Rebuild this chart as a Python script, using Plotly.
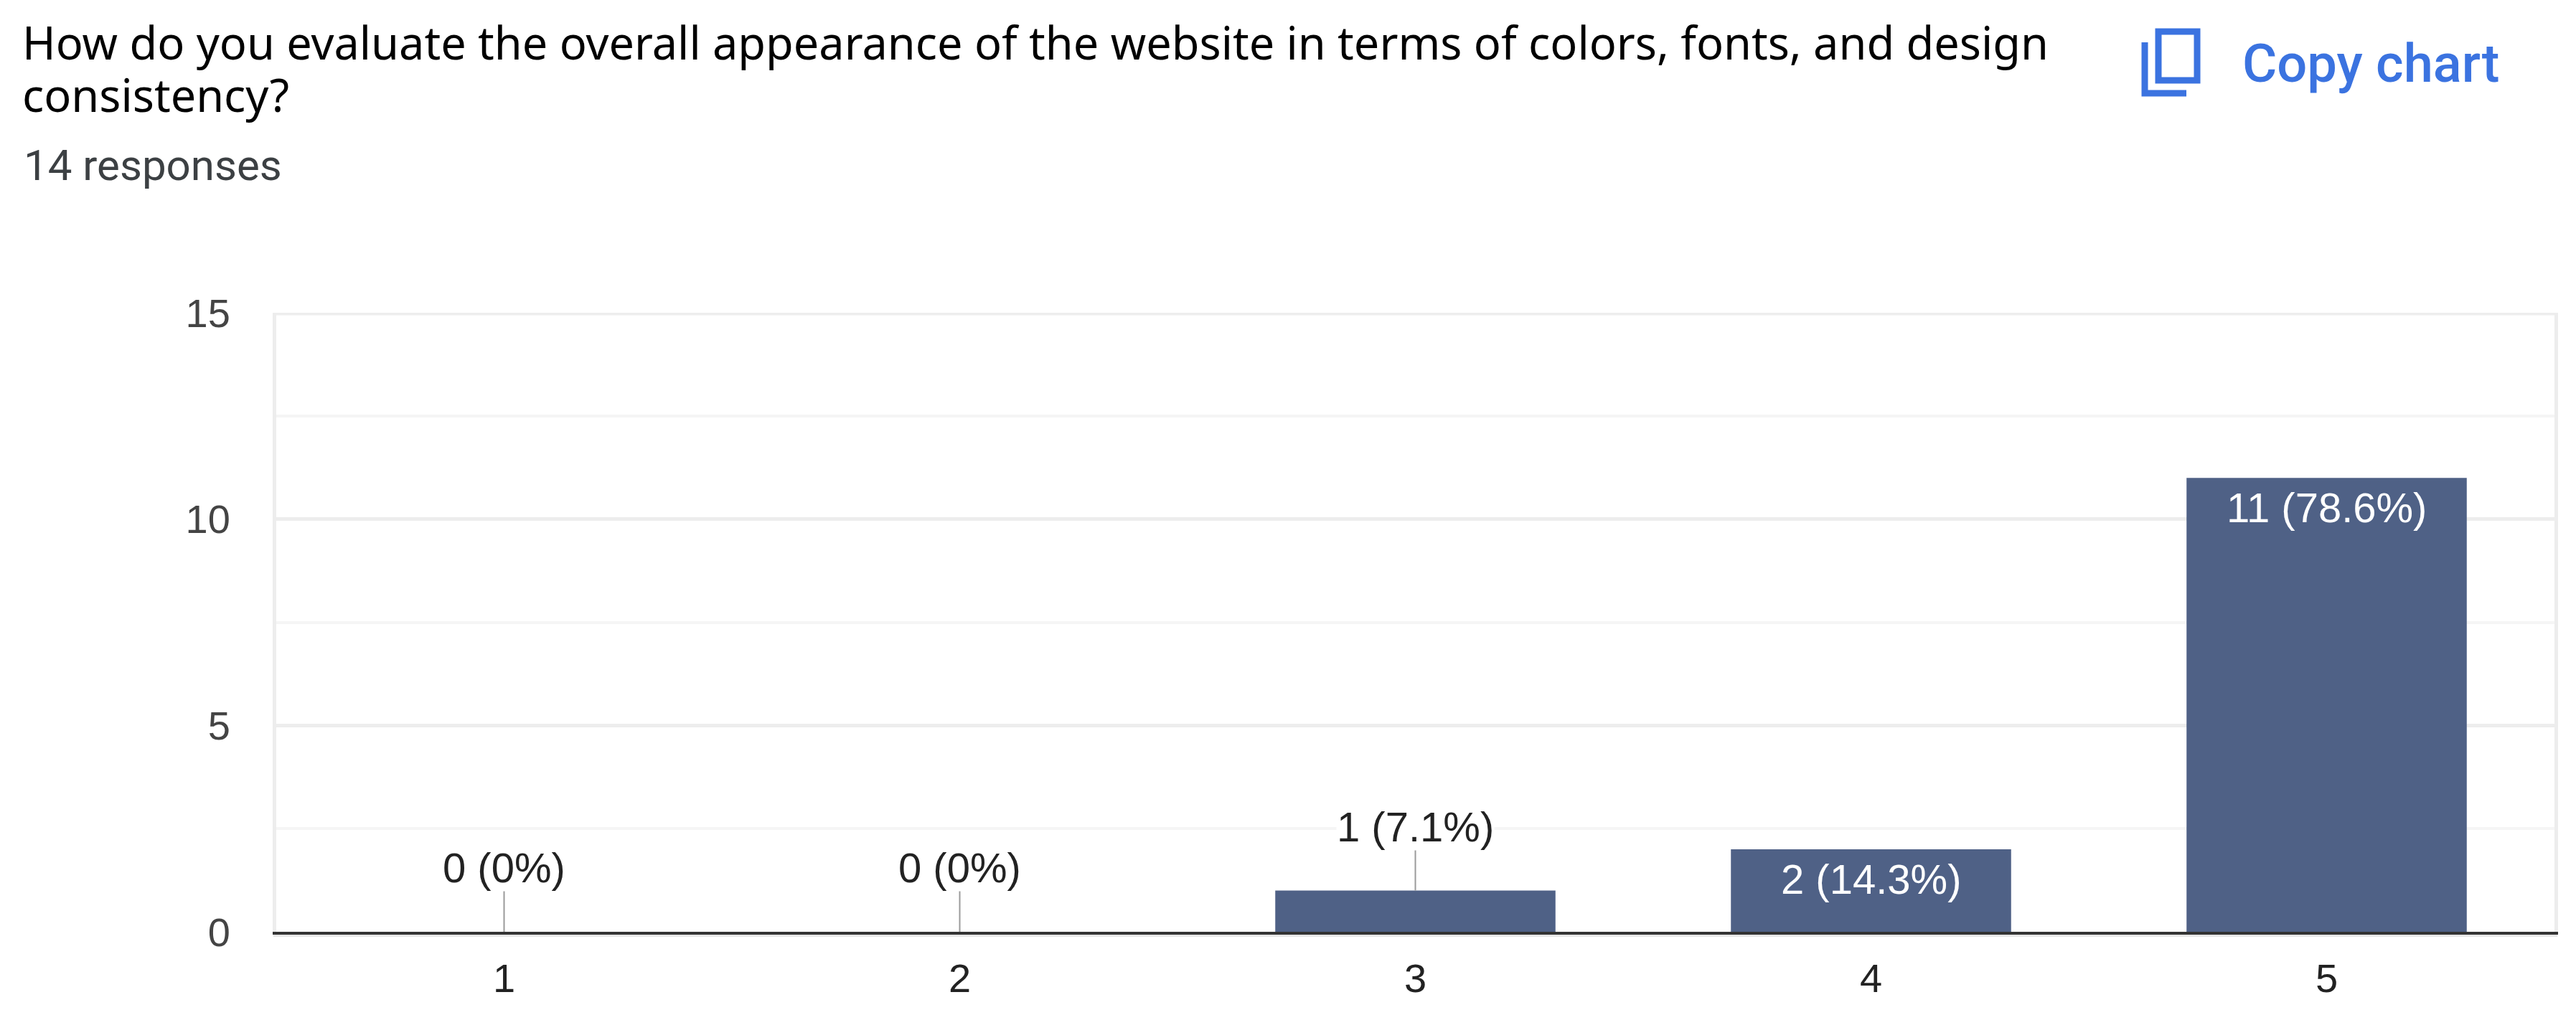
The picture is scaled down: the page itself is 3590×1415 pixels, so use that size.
"""Survey response bar chart, Google Forms look."""

import plotly.graph_objects as go

W, H = 3590, 1415
PLOT_L, PLOT_R, PLOT_T, PLOT_B = 385, 3560, 436, 1299

BLUE = "#3B73E0"
BAR = "#4F6186"
GRID = "#EDEDED"

categories = ["1", "2", "3", "4", "5"]
counts = [0, 0, 1, 2, 11]
labels = ["0 (0%)", "0 (0%)", "1 (7.1%)", "2 (14.3%)", "11 (78.6%)"]
y_ticks = [0, 5, 10, 15]
leader_len = [1, 1, 1, 0, 0]

question_lines = [
    "How do you evaluate the overall appearance of the website in terms of colors, fonts, and design",
    "consistency?",
]
responses = "14 responses"


def px_x(x):
    return (x - PLOT_L) / (PLOT_R - PLOT_L)


def px_y(y):
    return (PLOT_B - y) / (PLOT_B - PLOT_T)


def page_text(x, y, text, size, color, family, weight=400):
    fig.add_annotation(
        xref="paper", yref="paper", x=px_x(x), y=px_y(y), text=text, showarrow=False,
        xanchor="left", yanchor="top", align="left", borderpad=0,
        font=dict(size=size, color=color, family=family, weight=weight),
    )


fig = go.Figure(go.Bar(x=categories, y=counts, width=0.615, marker=dict(color=BAR, line_width=0)))

# thin grey leaders from the bar top up to the outside labels
fig.add_trace(go.Scatter(
    x=categories, y=counts, mode="markers", marker=dict(size=1, opacity=0),
    error_y=dict(type="data", symmetric=False, array=leader_len, arrayminus=[0] * 5,
                 width=0, thickness=2, color="#9A9A9A"),
))

# annotations on a category axis take the position index, not the label
for i, (count, label, leader) in enumerate(zip(counts, labels, leader_len)):
    outside = leader > 0
    fig.add_annotation(
        x=i, y=count + leader if outside else count, text=label, showarrow=False,
        yanchor="bottom" if outside else "top", yshift=-2 if outside else -8,
        bgcolor="white" if outside else None, borderpad=0,
        font=dict(size=58, color="#222222" if outside else "white", family="Liberation Sans"),
    )

page_text(30, 15, question_lines[0], 63, "#000000", "Noto Sans")
page_text(30, 88, question_lines[1], 63, "#000000", "Noto Sans")
page_text(32, 194, responses, 60, "#3C4043", "Roboto")
page_text(3124, 44, "Copy chart", 74, BLUE, "Roboto", weight=500)

# copy icon
fig.add_shape(type="rect", xref="paper", yref="paper", x0=px_x(3008), x1=px_x(3062),
              y0=px_y(112), y1=px_y(44), line=dict(color=BLUE, width=9), fillcolor="white")
fig.add_shape(type="path", xref="paper", yref="paper",
              path=f"M {px_x(2989)} {px_y(59)} L {px_x(2989)} {px_y(130)} L {px_x(3047)} {px_y(130)}",
              line=dict(color=BLUE, width=9))
# plotly drops the gridline sitting on the range edge
fig.add_hline(y=15, line=dict(color=GRID, width=7))
# pale line showing just under the dark baseline
fig.add_shape(type="line", xref="paper", yref="paper", x0=px_x(381), x1=px_x(3564),
              y0=px_y(1304.5), y1=px_y(1304.5), line=dict(color="#E6E6E6", width=3))

fig.update_xaxes(
    type="category", showgrid=False, showline=True, linecolor="#333333", linewidth=4,
    ticks="", ticklabelstandoff=13, automargin=False, tickfont=dict(size=56, color="#222222"),
)
fig.update_yaxes(
    range=[0, 15], tickvals=y_ticks, showline=True, mirror=True, linecolor=GRID, linewidth=5,
    gridcolor=GRID, gridwidth=5, zeroline=False, ticks="", ticklabelstandoff=48,
    automargin=False, tickfont=dict(size=56, color="#444444"),
    minor=dict(dtick=2.5, showgrid=True, gridcolor="#F5F5F5", gridwidth=4),
)
fig.update_layout(
    width=W, height=H, showlegend=False,
    margin=dict(l=PLOT_L, r=W - PLOT_R, t=PLOT_T, b=H - PLOT_B),
    paper_bgcolor="white", plot_bgcolor="white",
    font=dict(family="Liberation Sans, Arial, sans-serif"),
)

fig.write_html("out.html", config=dict(displayModeBar=False),
               post_script="document.body.style.margin='0'")
